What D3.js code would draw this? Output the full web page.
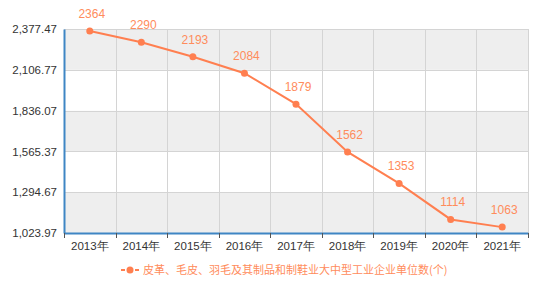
<!DOCTYPE html>
<html>
<head>
<meta charset="utf-8">
<script src="https://cdn.jsdelivr.net/npm/d3@7"></script>
<style>
  body { margin: 0; background: #fff; }
  svg { display: block; font-family: "Liberation Sans", Arial, "Noto Sans CJK SC", sans-serif; }
</style>
</head>
<body>
<svg id="chart" width="554" height="294"></svg>
<script>
// data
const years = ['2013年', '2014年', '2015年', '2016年', '2017年', '2018年', '2019年', '2020年', '2021年'];
const counts = [2364, 2290, 2193, 2084, 1879, 1562, 1353, 1114, 1063];
const yTicks = [1023.97, 1294.67, 1565.37, 1836.07, 2106.77, 2377.47];
const seriesName = '皮革、毛皮、羽毛及其制品和制鞋业大中型工业企业单位数(个)';

const svg = d3.select('#chart');
const margin = { top: 29, right: 26, bottom: 61, left: 64 };
const width = 554 - margin.left - margin.right;
const height = 294 - margin.top - margin.bottom;
const lineColor = '#ff7f50';
const labelColor = '#ff8c5c';
const axisColor = '#3f86c4';

const x = d3.scaleBand().domain(years).range([0, width]);
const y = d3.scaleLinear().domain([yTicks[0], yTicks[yTicks.length - 1]]).range([height, 0]);

const g = svg.append('g').attr('transform', `translate(${margin.left},${margin.top})`);

// alternating bands
for (let i = 0; i < yTicks.length - 1; i++) {
    g.append('rect')
        .attr('x', 0)
        .attr('y', y(yTicks[i + 1]))
        .attr('width', width)
        .attr('height', y(yTicks[i]) - y(yTicks[i + 1]))
        .attr('fill', i % 2 === 0 ? '#eeeeee' : '#ffffff');
}

// grid lines
g.selectAll('.hgrid')
    .data(yTicks)
    .enter()
    .append('line')
    .attr('x1', 0)
    .attr('x2', width)
    .attr('y1', d => Math.round(y(d)) + 0.5)
    .attr('y2', d => Math.round(y(d)) + 0.5)
    .attr('stroke', '#d4d4d4');

g.selectAll('.vgrid')
    .data(years)
    .enter()
    .append('line')
    .attr('x1', (d, i) => Math.round(x.step() * (i + 1)) + 0.5)
    .attr('x2', (d, i) => Math.round(x.step() * (i + 1)) + 0.5)
    .attr('y1', 0)
    .attr('y2', height)
    .attr('stroke', '#d4d4d4');

// y axis
const yAxis = g.append('g')
    .call(d3.axisLeft(y).tickValues(yTicks).tickSize(0).tickPadding(7)
        .tickFormat(d3.format(',.2f')));
yAxis.select('.domain').attr('stroke', axisColor).attr('stroke-width', 2);
yAxis.selectAll('text').attr('fill', '#333').style('font-size', '11.5px');

// x axis
const xAxis = g.append('g')
    .attr('transform', `translate(0,${height})`)
    .call(d3.axisBottom(x).tickSize(0).tickPadding(9));
xAxis.select('.domain').attr('stroke', axisColor).attr('stroke-width', 2);
xAxis.selectAll('text').attr('fill', '#333').style('font-size', '11.5px');

// x tick marks at band edges
g.selectAll('.xtick')
    .data(d3.range(years.length + 1))
    .enter()
    .append('line')
    .attr('x1', i => Math.round(x.step() * i) + 0.5)
    .attr('x2', i => Math.round(x.step() * i) + 0.5)
    .attr('y1', height)
    .attr('y2', height + 5)
    .attr('stroke', '#555');

// line
const line = d3.line()
    .x((d, i) => x(years[i]) + x.bandwidth() / 2)
    .y(d => y(d));

g.append('path')
    .datum(counts)
    .attr('d', line)
    .attr('fill', 'none')
    .attr('stroke', lineColor)
    .attr('stroke-width', 2);

g.selectAll('.dot')
    .data(counts)
    .enter()
    .append('circle')
    .attr('cx', (d, i) => x(years[i]) + x.bandwidth() / 2)
    .attr('cy', d => y(d))
    .attr('r', 3.5)
    .attr('fill', lineColor);

g.selectAll('.val')
    .data(counts)
    .enter()
    .append('text')
    .attr('x', (d, i) => x(years[i]) + x.bandwidth() / 2 + 2)
    .attr('y', d => y(d) - 13)
    .attr('text-anchor', 'middle')
    .attr('fill', labelColor)
    .style('font-size', '12px')
    .text(d => d);

// legend
const legend = svg.append('g').attr('transform', 'translate(121,270)');
legend.append('line')
    .attr('x1', 0).attr('x2', 4).attr('y1', 0).attr('y2', 0)
    .attr('stroke', lineColor).attr('stroke-width', 2);
legend.append('line')
    .attr('x1', 14).attr('x2', 18).attr('y1', 0).attr('y2', 0)
    .attr('stroke', lineColor).attr('stroke-width', 2);
legend.append('circle').attr('cx', 9).attr('cy', 0).attr('r', 3.5).attr('fill', lineColor);
legend.append('text')
    .attr('x', 22)
    .attr('y', 4)
    .attr('fill', labelColor)
    .style('font-size', '11px')
    .style('font-family', '"Noto Sans CJK SC", sans-serif')
    .text(seriesName);
</script>
</body>
</html>
